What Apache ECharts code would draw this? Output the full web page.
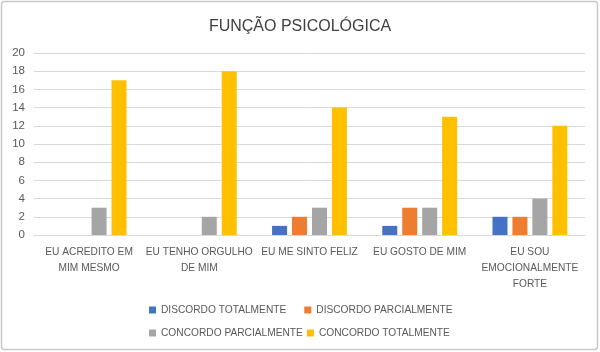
<!DOCTYPE html>
<html>
<head>
<meta charset="utf-8">
<script src="https://cdn.jsdelivr.net/npm/echarts@6/dist/echarts.min.js"></script>
<style>
  html, body { margin: 0; padding: 0; background: #fff; }
  #chart { width: 600px; height: 352px; }
</style>
</head>
<body>
<div id="chart"></div>
<script>
  var categories = ['EU ACREDITO EM\nMIM MESMO', 'EU TENHO ORGULHO\nDE MIM', 'EU ME SINTO FELIZ', 'EU GOSTO DE MIM', 'EU SOU\nEMOCIONALMENTE\nFORTE']
  var seriesNames = ['DISCORDO TOTALMENTE', 'DISCORDO PARCIALMENTE', 'CONCORDO PARCIALMENTE', 'CONCORDO TOTALMENTE']
  var discordoTotal = [0, 0, 1, 1, 2]
  var discordoParcial = [0, 0, 2, 3, 2]
  var concordoParcial = [3, 2, 3, 3, 4]
  var concordoTotal = [17, 18, 14, 13, 12]
  var colors = ['#4472C4', '#ED7D31', '#A5A5A5', '#FFC000']

  var font = '"Liberation Sans", Arial, sans-serif'
  var chart = echarts.init(document.getElementById('chart'))

  function bar(name, data, color) {
    return {
      name: name,
      type: 'bar',
      barWidth: 15,
      barGap: '33%',
      itemStyle: { color: color },
      data: data
    }
  }

  function legendRow(names, top, gap) {
    return {
      data: names,
      left: 144,
      top: top,
      itemWidth: 7,
      itemHeight: 7,
      itemGap: gap,
      icon: 'rect',
      textStyle: { fontFamily: font, fontSize: 10.2, color: '#595959' }
    }
  }

  chart.setOption({
    animation: false,
    color: colors,
    title: {
      text: 'FUNÇÃO PSICOLÓGICA',
      left: 'center',
      top: 14,
      textStyle: { fontFamily: font, fontSize: 16, fontWeight: 'normal', color: '#404040' }
    },
    graphic: [{
      type: 'rect',
      shape: { x: 1.5, y: 1.5, width: 596, height: 348, r: 3 },
      style: { fill: 'none', stroke: '#c8c8c8', lineWidth: 1.5 }
    }],
    legend: [
      legendRow(seriesNames.slice(0, 2), 300, 18),
      legendRow(seriesNames.slice(2, 4), 323, 4)
    ],
    grid: {
      left: 34,
      right: 15,
      top: 53,
      bottom: 117
    },
    xAxis: {
      type: 'category',
      data: categories,
      axisLine: { lineStyle: { color: '#d9d9d9' } },
      axisTick: { show: false },
      axisLabel: {
        interval: 0,
        margin: 9,
        lineHeight: 16,
        fontFamily: font,
        fontSize: 10.2,
        color: '#595959'
      }
    },
    yAxis: {
      type: 'value',
      min: 0,
      max: 20,
      interval: 2,
      axisLine: { show: false },
      axisTick: { show: false },
      splitLine: { lineStyle: { color: '#d9d9d9' } },
      axisLabel: { fontFamily: font, fontSize: 11.5, color: '#595959', margin: 9 }
    },
    series: [
      bar(seriesNames[0], discordoTotal, colors[0]),
      bar(seriesNames[1], discordoParcial, colors[1]),
      bar(seriesNames[2], concordoParcial, colors[2]),
      bar(seriesNames[3], concordoTotal, colors[3])
    ]
  })
</script>
</body>
</html>
